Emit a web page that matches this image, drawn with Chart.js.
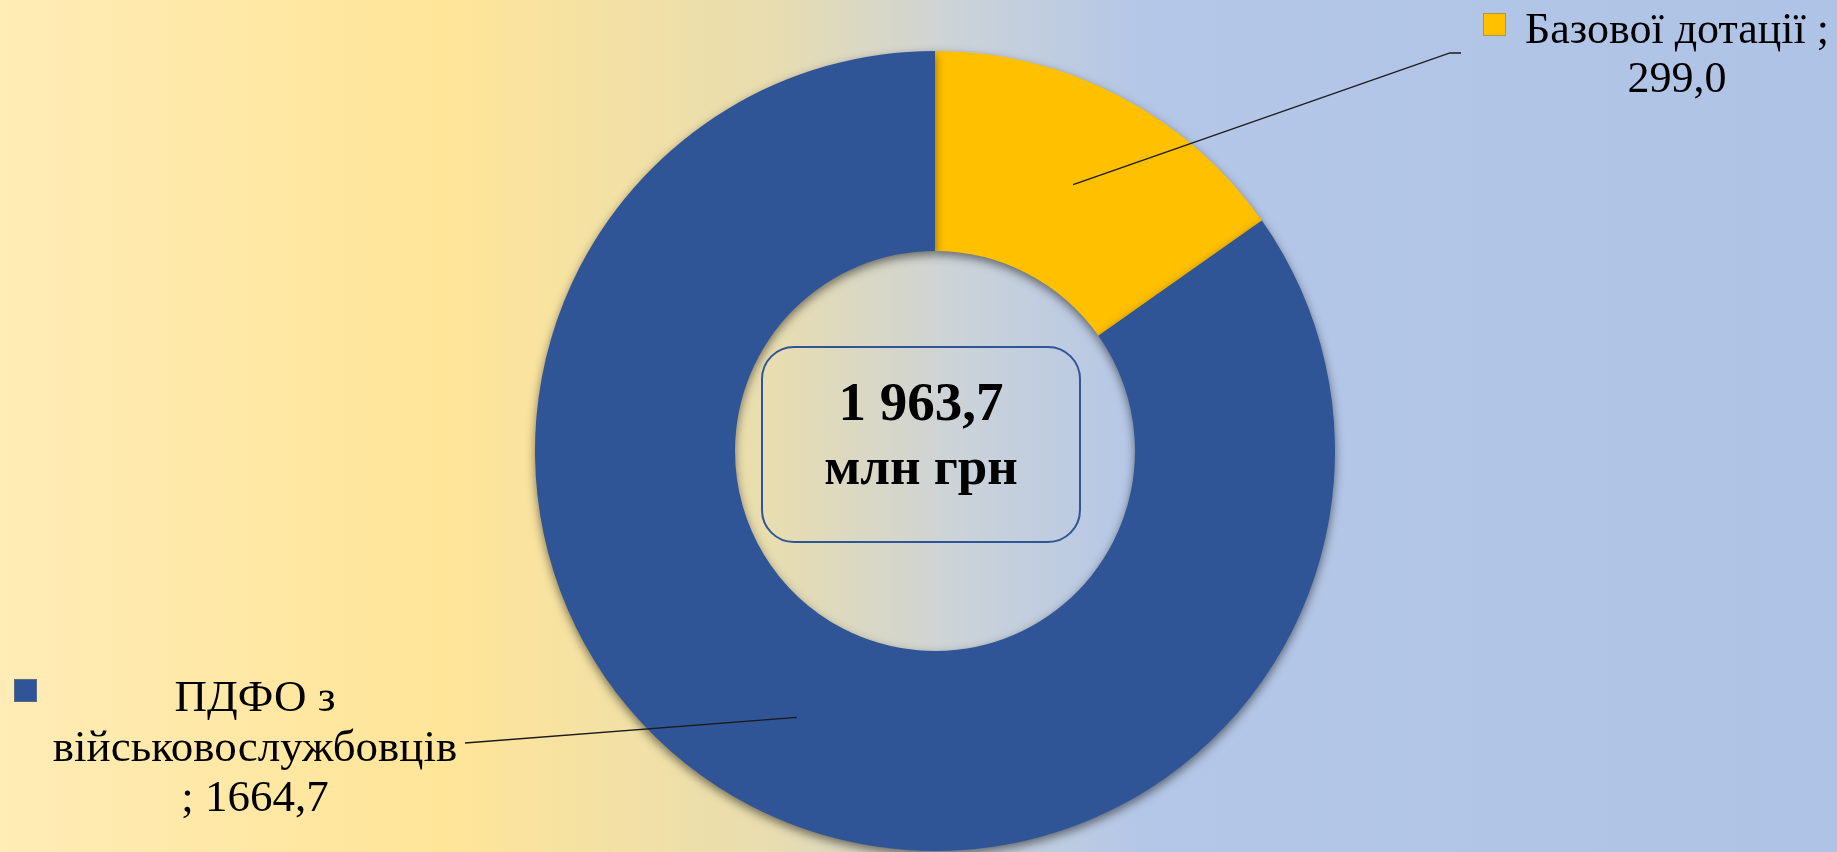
<!DOCTYPE html>
<html>
<head>
<meta charset="utf-8">
<script src="https://cdn.jsdelivr.net/npm/chart.js@4/dist/chart.umd.min.js"></script>
<style>
  html, body { margin: 0; padding: 0; background: #ffffff; overflow: hidden; }
  #wrap { position: relative; width: 1837px; height: 852px; }
</style>
</head>
<body>
<div id="wrap"><canvas id="c" width="1837" height="852"></canvas></div>
<script>
// ---- data ----
const categories = [['Базової дотації'], ['ПДФО з', 'військовослужбовців']];
const values = [299.0, 1664.7];
const colors = ['#FFC000', '#2F5597'];
const unitLabel = 'млн грн';

function fmt(v) {
  const parts = v.toFixed(1).split('.');
  const intPart = parts[0].replace(/\B(?=(\d{3})+(?!\d))/g, ' ');
  return intPart + ',' + parts[1];
}
function fmtPlain(v) { return v.toFixed(1).replace('.', ','); }

// label text lines (PowerPoint-style wrapping of "category ; value")
const labelLines = [
  [categories[0][0] + ' ;', fmtPlain(values[0])],
  [categories[1][0], categories[1][1], '; ' + fmtPlain(values[1])]
];

const SERIF = '"Liberation Serif", "Times New Roman", serif';

const bgPlugin = {
  id: 'bg',
  beforeDraw(chart) {
    const ctx = chart.ctx, w = chart.width, h = chart.height;
    const g = ctx.createLinearGradient(0, 0, w, 0);
    g.addColorStop(0, '#FFECB6');
    g.addColorStop(0.24, '#FFE598');
    g.addColorStop(0.42, '#E8DDB0');
    g.addColorStop(0.52, '#CCD3D8');
    g.addColorStop(0.62, '#B4C7E7');
    g.addColorStop(1, '#AFC3E6');
    ctx.save();
    ctx.fillStyle = g;
    ctx.fillRect(0, 0, w, h);
    ctx.restore();
  }
};

const shadowPlugin = {
  id: 'shadow',
  beforeDatasetDraw(chart) {
    const ctx = chart.ctx;
    ctx.save();
    ctx.shadowColor = 'rgba(0,0,0,0.5)';
    ctx.shadowBlur = 10;
    ctx.shadowOffsetX = 0;
    ctx.shadowOffsetY = 4;
  },
  afterDatasetDraw(chart) {
    chart.ctx.restore();
  }
};

const annotPlugin = {
  id: 'annot',
  afterDraw(chart) {
    const ctx = chart.ctx;
    const meta = chart.getDatasetMeta(0);
    const arc0 = meta.data[0];
    const cx = arc0.x, cy = arc0.y;
    ctx.save();

    // leader lines from slice centre points to labels
    const ends = [
      [[1450, 53], [1461, 53]],
      [[465, 743]]
    ];
    meta.data.forEach((arc, i) => {
      const p = arc.getCenterPoint();
      ctx.beginPath();
      ctx.moveTo(p.x, p.y);
      ends[i].forEach(e => ctx.lineTo(e[0], e[1]));
      ctx.strokeStyle = '#1a1a1a';
      ctx.lineWidth = 1.3;
      ctx.stroke();
    });

    // labels
    ctx.fillStyle = '#000';
    ctx.textAlign = 'center';
    ctx.textBaseline = 'alphabetic';
    ctx.font = '44px ' + SERIF;
    labelLines[0].forEach((t, k) => ctx.fillText(t, 1677, 43 + k * 49));
    ctx.font = '45px ' + SERIF;
    labelLines[1].forEach((t, k) => ctx.fillText(t, 255, 711 + k * 50));

    // legend keys
    const keys = [[1483, 13], [14, 679]];
    keys.forEach((k, i) => {
      ctx.fillStyle = colors[i];
      ctx.fillRect(k[0], k[1], 23, 23);
      ctx.strokeStyle = 'rgba(120,120,120,0.6)';
      ctx.lineWidth = 1;
      ctx.strokeRect(k[0] + 0.5, k[1] + 0.5, 22, 22);
    });

    // centre box
    const bx = cx - 173, by = cy - 104, bw = 318, bh = 195, r = 32;
    ctx.beginPath();
    ctx.roundRect(bx, by, bw, bh, r);
    ctx.strokeStyle = '#2F5597';
    ctx.lineWidth = 2;
    ctx.stroke();

    const total = values.reduce((a, b) => a + b, 0);
    ctx.fillStyle = '#000';
    ctx.textAlign = 'center';
    ctx.font = 'bold 55px ' + SERIF;
    ctx.fillText(fmt(total), bx + bw / 2, cy - 31);
    ctx.font = 'bold 53px ' + SERIF;
    ctx.fillText(unitLabel, bx + bw / 2, cy + 33);

    ctx.restore();
  }
};

new Chart(document.getElementById('c'), {
  type: 'doughnut',
  data: {
    labels: categories.map(c => c.join(' ')),
    datasets: [{
      data: values,
      backgroundColor: colors,
      borderWidth: 0,
      hoverOffset: 0
    }]
  },
  options: {
    responsive: false,
    animation: false,
    cutout: '50%',
    layout: { padding: { top: 51, bottom: 1, left: 33, right: 0 } },
    plugins: {
      legend: { display: false },
      tooltip: { enabled: false }
    }
  },
  plugins: [bgPlugin, shadowPlugin, annotPlugin]
});
</script>
</body>
</html>
